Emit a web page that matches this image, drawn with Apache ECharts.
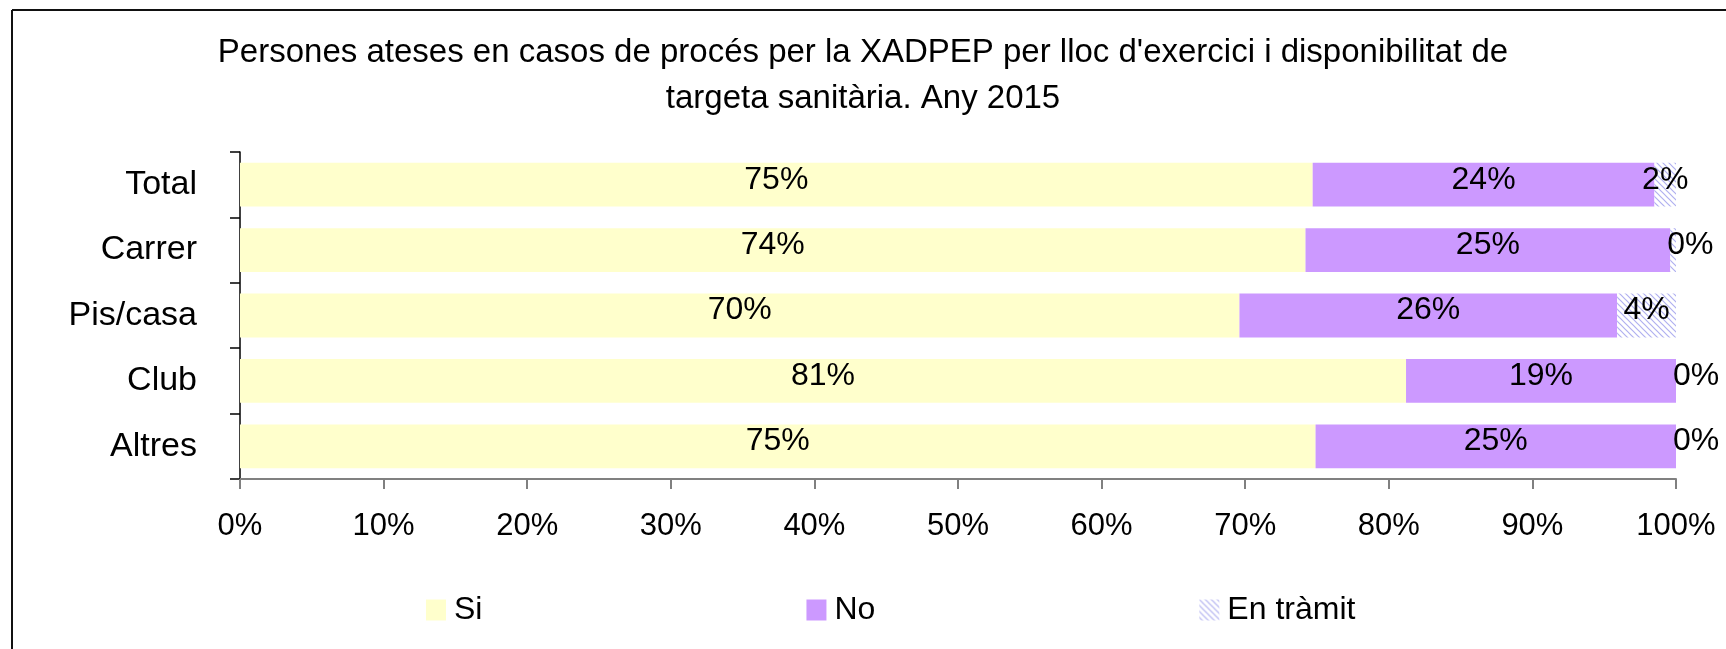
<!DOCTYPE html>
<html>
<head>
<meta charset="utf-8">
<title>XADPEP targeta sanitària 2015</title>
<script src="https://cdn.jsdelivr.net/npm/echarts@6/dist/echarts.min.js"></script>
<style>
  html, body { margin: 0; padding: 0; background: #fff; }
  #main { width: 1726px; height: 649px; }
</style>
</head>
<body>
<div id="main"></div>
<script>
// Data (percentages)
const categories = ["Total", "Carrer", "Pis/casa", "Club", "Altres"];
const siValues = [74.7, 74.2, 69.6, 81.2, 74.9];
const noValues = [23.8, 25.4, 26.3, 18.8, 25.1];
const tramitValues = [1.5, 0.4, 4.1, 0, 0];
const xTicks = [0, 10, 20, 30, 40, 50, 60, 70, 80, 90, 100];

const FONT = "Liberation Sans";

const chart = echarts.init(document.getElementById("main"));

// diagonal hatch used for "En tràmit"
function makeHatch() {
  const c = document.createElement("canvas");
  c.width = 6;
  c.height = 6;
  const ctx = c.getContext("2d");
  ctx.fillStyle = "#ffffff";
  ctx.fillRect(0, 0, 6, 6);
  ctx.strokeStyle = "#b0b0f0";
  ctx.lineWidth = 1.2;
  ctx.beginPath();
  ctx.moveTo(-1, -1);
  ctx.lineTo(7, 7);
  ctx.moveTo(-1, 5);
  ctx.lineTo(1, 7);
  ctx.moveTo(5, -1);
  ctx.lineTo(7, 1);
  ctx.stroke();
  return c;
}

function pct(p) {
  return Math.round(p.value) + "%";
}

const labelBase = {
  show: true,
  color: "#000",
  fontFamily: FONT,
  fontSize: 32,
  formatter: pct,
  offset: [0, -5],
};

// small "En tràmit" values get their label pushed to the bar start
const tramitData = tramitValues.map((v) => {
  if (v < 1) {
    return { value: v, label: { position: "insideLeft", distance: -3 } };
  }
  return v;
});

let option = {
  animation: false,
  title: {
    text: "Persones ateses en casos de procés per la XADPEP per lloc d'exercici i disponibilitat de\ntargeta sanitària. Any 2015",
    left: "center",
    top: 30,
    padding: 0,
    textStyle: {
      fontFamily: FONT,
      fontSize: 33,
      fontWeight: "normal",
      color: "#000",
      lineHeight: 46,
    },
  },
  legend: {
    left: 426,
    top: 594,
    padding: 0,
    itemGap: 324,
    itemWidth: 20,
    itemHeight: 21,
    icon: "rect",
    textStyle: { fontFamily: FONT, fontSize: 32, color: "#000", padding: [0, 0, 0, 3] },
    data: ["Si", "No", "En tràmit"],
  },
  grid: { left: 240, right: 50, top: 152, bottom: 170 },
  xAxis: {
    type: "value",
    min: 0,
    max: 100,
    interval: 10,
    axisLine: { show: true, lineStyle: { color: "#808080", width: 2 } },
    axisTick: { show: true, length: 10, lineStyle: { color: "#808080", width: 2 } },
    splitLine: { show: false },
    axisLabel: {
      margin: 32,
      color: "#000",
      fontFamily: FONT,
      fontSize: 31,
      formatter: (v) => (xTicks.indexOf(v) >= 0 ? v + "%" : ""),
    },
  },
  yAxis: {
    type: "category",
    inverse: true,
    data: categories,
    axisLine: { show: true, lineStyle: { color: "#000", width: 1.5 } },
    axisTick: { show: true, length: 10, lineStyle: { color: "#000", width: 1.5 } },
    axisLabel: { margin: 43, color: "#000", fontFamily: FONT, fontSize: 34 },
  },
  series: [
    {
      name: "Si",
      type: "bar",
      stack: "t",
      barCategoryGap: "33%",
      itemStyle: { color: "#ffffcc" },
      label: Object.assign({ position: "inside" }, labelBase),
      data: siValues,
    },
    {
      name: "No",
      type: "bar",
      stack: "t",
      itemStyle: { color: "#cc99ff" },
      label: Object.assign({ position: "inside" }, labelBase),
      data: noValues,
    },
    {
      name: "En tràmit",
      type: "bar",
      stack: "t",
      itemStyle: { color: { image: makeHatch(), repeat: "repeat" } },
      label: Object.assign({ position: "inside" }, labelBase),
      data: tramitData,
    },
  ],
  graphic: [
    {
      type: "line",
      shape: { x1: 12, y1: 10, x2: 1726, y2: 10 },
      style: { stroke: "#111", lineWidth: 2 },
    },
    {
      type: "line",
      shape: { x1: 12, y1: 10, x2: 12, y2: 649 },
      style: { stroke: "#111", lineWidth: 2 },
    },
  ],
};

chart.setOption(option);
</script>
</body>
</html>
